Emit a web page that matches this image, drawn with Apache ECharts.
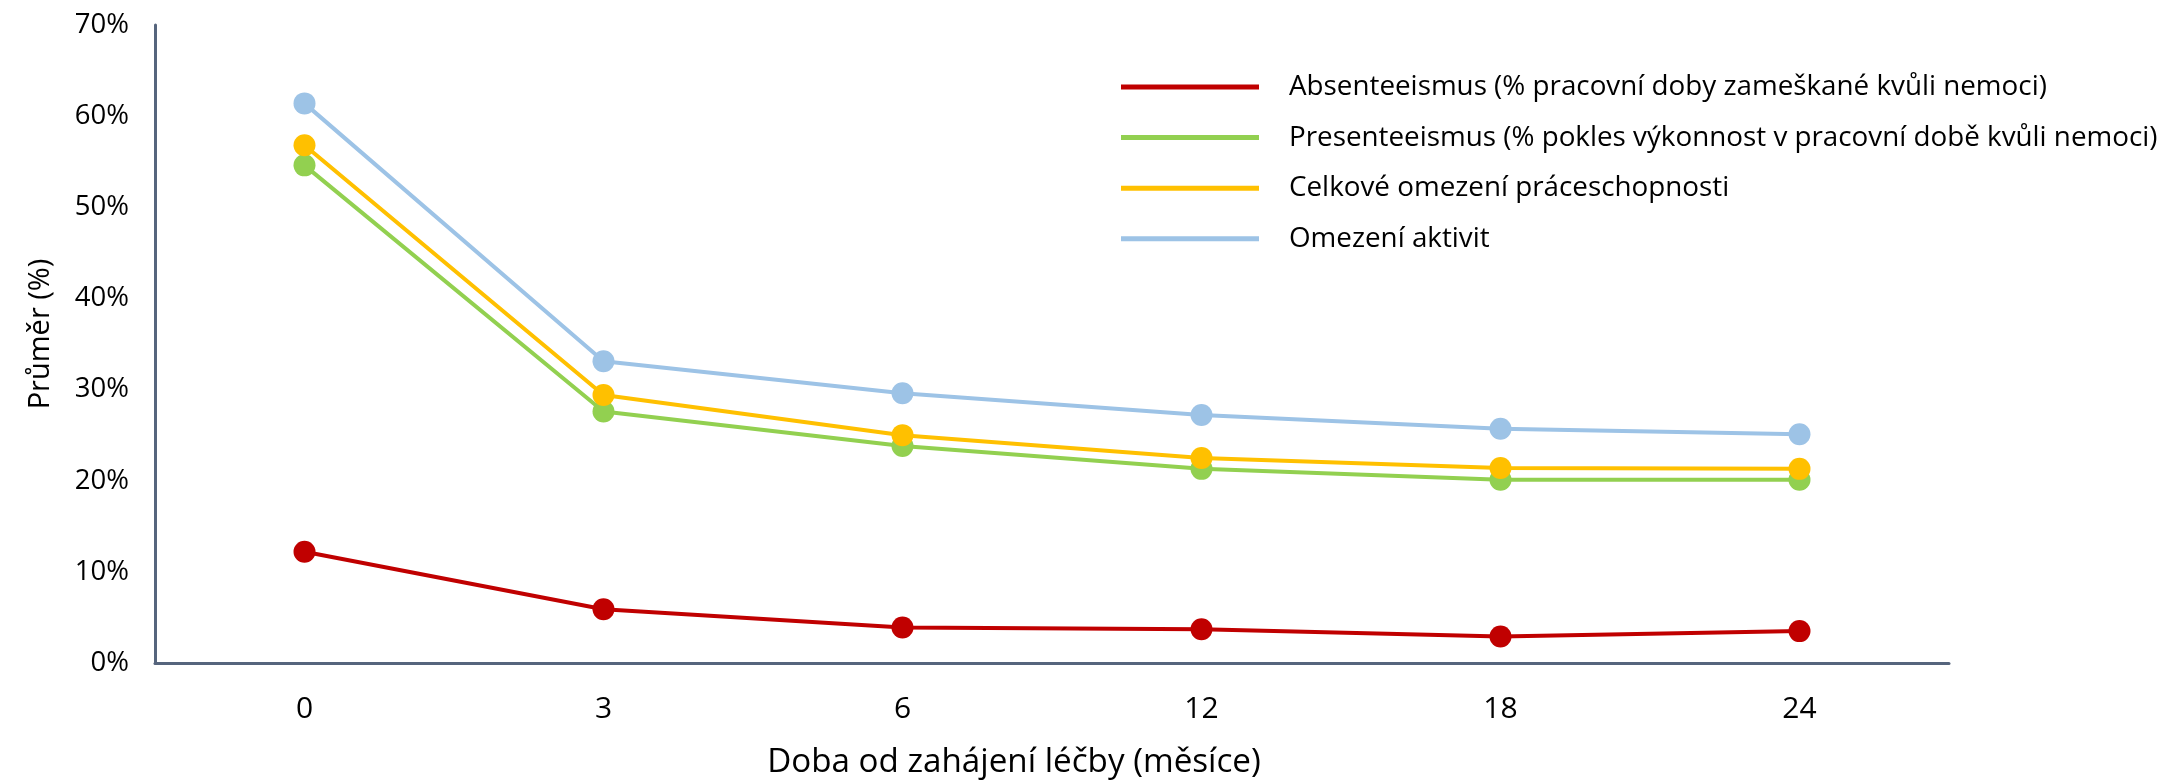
<!DOCTYPE html>
<html>
<head>
<meta charset="utf-8">
<script src="https://cdn.jsdelivr.net/npm/echarts@6/dist/echarts.min.js"></script>
<style>
html,body{margin:0;padding:0;background:#fff;}
#chart{width:2164px;height:784px;}
</style>
</head>
<body>
<div id="chart"></div>
<script>
const categories = ['0', '3', '6', '12', '18', '24'];
const seriesNames = [
  'Absenteeismus (% pracovní doby zameškané kvůli nemoci)',
  'Presenteeismus (% pokles výkonnost v pracovní době kvůli nemoci)',
  'Celkové omezení práceschopnosti',
  'Omezení aktivit'
];
const absenteeism = [12.2, 5.9, 3.9, 3.7, 2.9, 3.5];
const presenteeism = [54.6, 27.6, 23.8, 21.3, 20.1, 20.1];
const workImpairment = [56.8, 29.4, 25.0, 22.5, 21.4, 21.3];
const activityImpairment = [61.4, 33.1, 29.6, 27.2, 25.7, 25.1];
const colors = ['#C00000', '#92D050', '#FFC000', '#9DC3E6'];
const yTicks = { min: 0, max: 70, interval: 10 };
const xTitle = 'Doba od zahájení léčby (měsíce)';
const yTitle = 'Průměr (%)';

const dataSets = [absenteeism, presenteeism, workImpairment, activityImpairment];
const textFont = '"Open Sans", "Noto Sans", sans-serif';

const chart = echarts.init(document.getElementById('chart'));
chart.setOption({
  animation: false,
  grid: { left: 155, right: 215, top: 25, bottom: 113, containLabel: false },
  legend: {
    orient: 'vertical',
    left: 1121,
    top: 68,
    padding: 0,
    icon: 'rect',
    itemWidth: 138,
    itemHeight: 5,
    itemGap: 12.6,
    textStyle: { fontFamily: textFont, fontSize: 27.8, color: '#000', lineHeight: 38, padding: [0, 0, 0, 25] },
    data: seriesNames
  },
  xAxis: {
    type: 'category',
    data: categories,
    boundaryGap: true,
    axisLine: { lineStyle: { color: '#56657d', width: 3 } },
    axisTick: { show: false },
    axisLabel: { fontFamily: textFont, fontSize: 30, color: '#000', margin: 31 },
    name: xTitle,
    nameLocation: 'middle',
    nameGap: 83,
    nameTextStyle: { fontFamily: textFont, fontSize: 33.2, color: '#000', padding: [0, 76, 0, 0] }
  },
  yAxis: {
    type: 'value',
    min: yTicks.min,
    max: yTicks.max,
    interval: yTicks.interval,
    axisLine: { show: true, lineStyle: { color: '#56657d', width: 3 } },
    axisTick: { show: false },
    splitLine: { show: false },
    axisLabel: { fontFamily: textFont, fontSize: 27.5, color: '#000', margin: 26, formatter: '{value}%' },
    name: yTitle,
    nameLocation: 'middle',
    nameRotate: 90,
    nameGap: 100,
    nameTextStyle: { fontFamily: textFont, fontSize: 29, color: '#000', padding: [0, 0, 0, 20] }
  },
  series: dataSets.map((d, i) => ({
    name: seriesNames[i],
    type: 'line',
    data: d,
    symbol: 'circle',
    symbolSize: 22,
    lineStyle: { color: colors[i], width: 4 },
    itemStyle: { color: colors[i] },
    z: 2 + i
  }))
});
</script>
</body>
</html>
